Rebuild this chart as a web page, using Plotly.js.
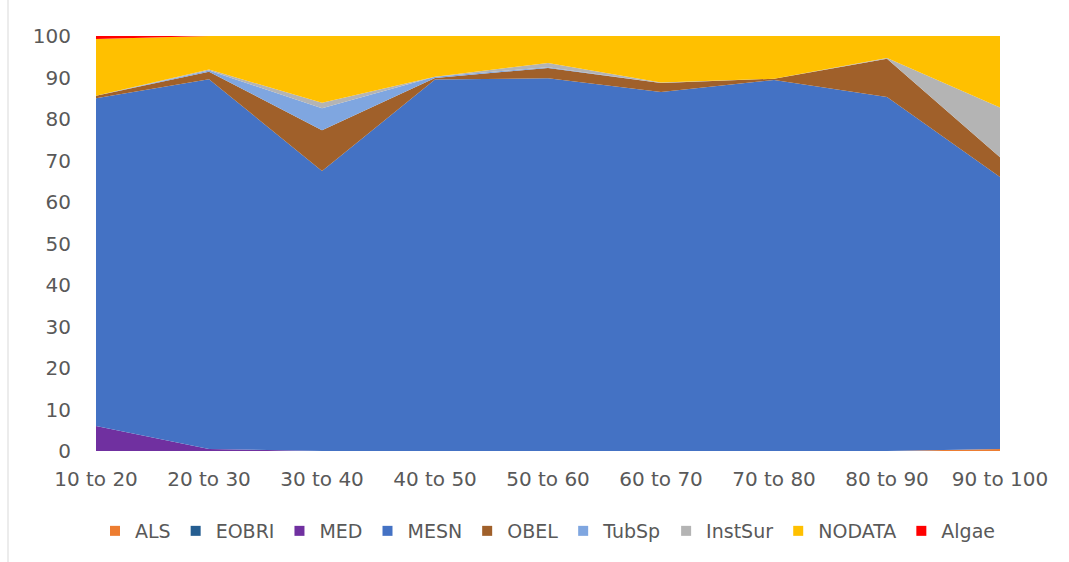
<!DOCTYPE html>
<html>
<head>
<meta charset="utf-8">
<script src="https://cdn.plot.ly/plotly-3.0.1.min.js"></script>
<style>html,body{margin:0;padding:0;background:#fff;}#chart{width:1069px;height:562px;}</style>
</head>
<body>
<div id="chart"></div>
<script>
const categories = ["10 to 20","20 to 30","30 to 40","40 to 50","50 to 60","60 to 70","70 to 80","80 to 90","90 to 100"];
const ALS     = [0, 0, 0, 0, 0, 0, 0, 0, 0.5];
const EOBRI   = [0, 0, 0, 0, 0, 0, 0, 0, 0];
const MED     = [6, 0.5, 0, 0, 0, 0, 0, 0, 0];
const MESN    = [79, 89.1, 67.5, 89.5, 89.8, 86.5, 89.4, 85.3, 65.5];
const OBEL    = [0.6, 1.8, 9.8, 0.4, 2.5, 2.2, 0.3, 9.2, 4.8];
const TubSp   = [0, 0.3, 5.3, 0.3, 0.2, 0, 0, 0, 0];
const InstSur = [0, 0.2, 1.3, 0, 1.0, 0.1, 0, 0.2, 12];
const NODATA  = [13.7, 8.1, 16.1, 9.8, 6.5, 11.2, 10.3, 5.3, 17.2];
const Algae   = [0.7, 0, 0, 0, 0, 0, 0, 0, 0];

const seriesNames = ["ALS","EOBRI","MED","MESN","OBEL","TubSp","InstSur","NODATA","Algae"];
const seriesData = [ALS, EOBRI, MED, MESN, OBEL, TubSp, InstSur, NODATA, Algae];
const seriesColors = ["#ED7D31","#255E91","#7030A0","#4472C4","#A0602A","#7FA6E0","#B4B4B4","#FFC000","#FF0000"];

const traces = [];
seriesNames.forEach((n, i) => {
  traces.push({
    type: "scatter", x: categories, y: seriesData[i], name: n,
    stackgroup: "one", mode: "none", fill: "tonexty",
    fillcolor: seriesColors[i], line: {width: 0, color: seriesColors[i]},
    showlegend: false, hoverinfo: "skip"
  });
});
seriesNames.forEach((n, i) => {
  traces.push({
    type: "scatter", x: [null], y: [null], name: n, mode: "markers",
    marker: {symbol: "square", size: 10, color: seriesColors[i]},
    showlegend: true
  });
});

const font = {family: "DejaVu Sans, sans-serif", size: 20, color: "#595959"};
const layout = {
  width: 1069, height: 562,
  margin: {l: 96, r: 69, t: 36, b: 111, autoexpand: false},
  paper_bgcolor: "#fff", plot_bgcolor: "#fff",
  font: font,
  showlegend: true,
  xaxis: {
    type: "category", range: [0, 8], showgrid: false, zeroline: false, showline: false,
    ticks: "", ticklabelstandoff: 14, tickfont: font, fixedrange: true
  },
  yaxis: {
    range: [0, 100], dtick: 10, showgrid: false, zeroline: false, showline: false,
    ticks: "", ticklabelstandoff: 24, tickfont: font, fixedrange: true
  },
  legend: {
    orientation: "h", x: 0.5, xanchor: "center",
    yref: "container", y: (562 - 531) / 562, yanchor: "middle",
    font: {family: "DejaVu Sans, sans-serif", size: 19, color: "#595959"},
    itemwidth: 30, traceorder: "normal"
  },
  shapes: [{
    type: "line", xref: "paper", yref: "paper",
    x0: -88/904, x1: -88/904, y0: -111/415, y1: 1 + 36/415,
    line: {color: "#D9D9D9", width: 1}
  }]
};
Plotly.newPlot("chart", traces, layout, {displayModeBar: false, staticPlot: true});
</script>
</body>
</html>
